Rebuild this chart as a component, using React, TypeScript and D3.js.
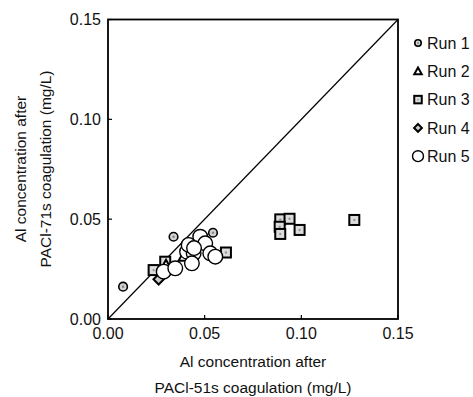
import React from "react";
import * as d3 from "d3";

const W = 473, H = 397;
const margin = { left: 108, top: 19.5, right: 75, bottom: 78 };

const xTicks = [0, 0.05, 0.1, 0.15];
const yTicks = [0, 0.05, 0.1, 0.15];
const seriesNames = ["Run 1", "Run 2", "Run 3", "Run 4", "Run 5"];

const run1X = [0.0078, 0.0339, 0.0543];
const run1Y = [0.0162, 0.0412, 0.0432];

const run2X = [0.0391, 0.0300];
const run2Y = [0.0312, 0.0272];

const run3X = [0.061, 0.0891, 0.0939, 0.0888, 0.0891, 0.0991, 0.1274, 0.0236, 0.0296];
const run3Y = [0.0333, 0.0499, 0.0502, 0.0462, 0.0426, 0.0446, 0.0496, 0.0245, 0.0287];

const run4X = [0.0262];
const run4Y = [0.0199];

const run5X = [0.0288, 0.0348, 0.0409, 0.0443, 0.0477, 0.0503, 0.0434, 0.0529, 0.0555, 0.0417, 0.0445];
const run5Y = [0.0237, 0.0254, 0.0337, 0.0329, 0.0412, 0.0379, 0.0279, 0.0329, 0.0312, 0.0371, 0.0355];

const FONT = "'Liberation Sans', Arial, sans-serif";

function Marker({ type, cx, cy, scale = 1 }: { type: number; cx: number; cy: number; scale?: number }) {
  if (type === 0) {
    return (
      <g>
        <circle cx={cx} cy={cy} r={4.3 * scale} fill="#d4d4d4" stroke="#000" strokeWidth={1.6} />
        <circle cx={cx} cy={cy} r={1.3 * scale} fill="#888" />
      </g>
    );
  }
  if (type === 1) {
    const s = 5 * scale;
    return (
      <path
        d={`M${cx},${cy - s} L${cx + s},${cy + s * 0.8} L${cx - s},${cy + s * 0.8} Z`}
        fill="#fff"
        stroke="#000"
        strokeWidth={2}
      />
    );
  }
  if (type === 2) {
    const s = 5 * scale;
    return (
      <g>
        <rect x={cx - s} y={cy - s} width={2 * s} height={2 * s} fill="#dcdcdc" stroke="#000" strokeWidth={2} />
        <circle cx={cx} cy={cy} r={1.2 * scale} fill="#999" />
      </g>
    );
  }
  if (type === 3) {
    const s = 5.2 * scale;
    return (
      <path
        d={`M${cx},${cy - s} L${cx + s},${cy} L${cx},${cy + s} L${cx - s},${cy} Z`}
        fill="#ccc"
        stroke="#000"
        strokeWidth={2}
      />
    );
  }
  return <circle cx={cx} cy={cy} r={7.3 * scale} fill="#fff" stroke="#000" strokeWidth={1.4} />;
}

export default function App() {
  const x = d3.scaleLinear().domain([0, 0.15]).range([margin.left, 398]);
  const y = d3.scaleLinear().domain([0, 0.15]).range([319, margin.top]);

  const series = [
    { type: 2, xs: run3X, ys: run3Y },
    { type: 3, xs: run4X, ys: run4Y },
    { type: 1, xs: run2X, ys: run2Y },
    { type: 4, xs: run5X, ys: run5Y },
    { type: 0, xs: run1X, ys: run1Y },
  ];

  const line = d3.line<[number, number]>().x((d) => x(d[0])).y((d) => y(d[1]));

  return (
    <svg width={W} height={H} style={{ position: "absolute", left: 0, top: 0, background: "#fff" }} fontFamily={FONT}>
      <rect x={0} y={0} width={W} height={H} fill="#fff" />
      <path d={line([[0, 0], [0.15, 0.15]]) || ""} stroke="#000" strokeWidth={1.2} fill="none" />
      {series.map((s, si) =>
        s.xs.map((v, i) => <Marker key={`${si}-${i}`} type={s.type} cx={x(v)} cy={y(s.ys[i])} />)
      )}
      <rect
        x={x(0)}
        y={y(0.15)}
        width={x(0.15) - x(0)}
        height={y(0) - y(0.15)}
        fill="none"
        stroke="#000"
        strokeWidth={1.8}
      />
      {xTicks.map((t) => (
        <g key={`xt${t}`}>
          <line x1={x(t)} x2={x(t)} y1={y(0)} y2={y(0) - 4} stroke="#000" strokeWidth={1.2} />
          <text x={x(t)} y={339} textAnchor="middle" fontSize={16} fill="#111">
            {d3.format(".2f")(t)}
          </text>
        </g>
      ))}
      {yTicks.map((t) => (
        <g key={`yt${t}`}>
          <line x1={x(0)} x2={x(0) + 4} y1={y(t)} y2={y(t)} stroke="#000" strokeWidth={1.2} />
          <text x={101} y={y(t)} dy="0.36em" textAnchor="end" fontSize={16} fill="#111">
            {d3.format(".2f")(t)}
          </text>
        </g>
      ))}
      <text x={x(0.075)} y={367} textAnchor="middle" fontSize={15.5} fill="#111">
        Al concentration after
      </text>
      <text x={x(0.075)} y={393} textAnchor="middle" fontSize={15.5} fill="#111">
        PACl-51s coagulation (mg/L)
      </text>
      <g transform={`translate(26,169) rotate(-90)`}>
        <text x={0} y={0} textAnchor="middle" fontSize={15.5} fill="#111">
          Al concentration after
        </text>
      </g>
      <g transform={`translate(51,169) rotate(-90)`}>
        <text x={0} y={0} textAnchor="middle" fontSize={15.5} fill="#111">
          PACl-71s coagulation (mg/L)
        </text>
      </g>
      {seriesNames.map((name, i) => {
        const ly = 43 + i * 28.3;
        return (
          <g key={name}>
            <Marker type={i} cx={418} cy={ly} scale={0.75} />
            <text x={427} y={ly} dy="0.36em" fontSize={16} fill="#111">
              {name}
            </text>
          </g>
        );
      })}
    </svg>
  );
}
